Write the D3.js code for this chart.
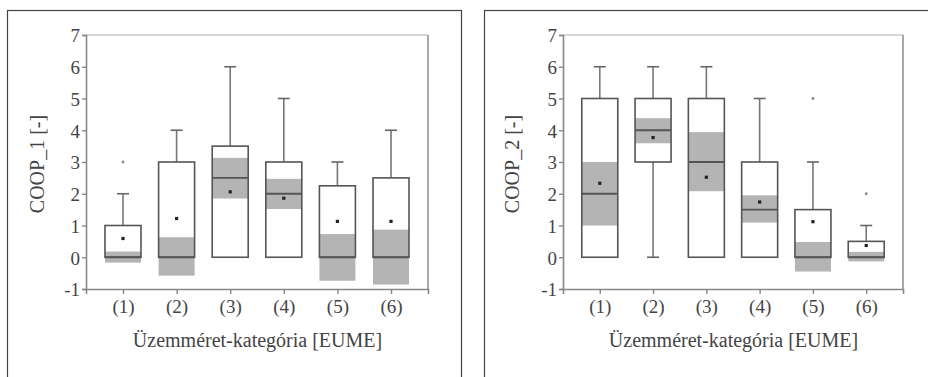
<!DOCTYPE html>
<html>
<head>
<meta charset="utf-8">
<script src="https://cdn.jsdelivr.net/npm/d3@7"></script>
<style>
  body { margin: 0; background: #fff; }
  svg text { font-family: "Liberation Serif", "Times New Roman", Times, Tinos, "DejaVu Serif", "Noto Serif", serif; fill: #444; }
</style>
</head>
<body>
<svg id="chart" width="928" height="377"></svg>
<script>
// categories & ticks
const categories = ['(1)', '(2)', '(3)', '(4)', '(5)', '(6)'];
const yTicks = [-1, 0, 1, 2, 3, 4, 5, 6, 7];
const xTitle = 'Üzemméret-kategória  [EUME]';
const serif = '"Liberation Serif", "Times New Roman", Times, Tinos, "DejaVu Serif", "Noto Serif", serif';

// COOP_1
const coop1Q1 = [0, 0, 0, 0, 0, 0];
const coop1Q3 = [1, 3, 3.5, 3, 2.25, 2.5];
const coop1Median = [0, 0, 2.5, 2, 0, 0];
const coop1WhiskerLow = [0, 0, 0, 0, 0, 0];
const coop1WhiskerHigh = [2, 4, 6, 5, 3, 4];
const coop1Mean = [0.59, 1.22, 2.06, 1.86, 1.13, 1.13];
const coop1CiLow = [-0.17, -0.58, 1.85, 1.52, -0.74, -0.86];
const coop1CiHigh = [0.18, 0.63, 3.13, 2.47, 0.73, 0.87];
const coop1Outliers = [[3], [], [], [], [], []];

// COOP_2
const coop2Q1 = [0, 3, 0, 0, 0, 0];
const coop2Q3 = [5, 5, 5, 3, 1.5, 0.5];
const coop2Median = [2, 4, 3, 1.5, 0, 0];
const coop2WhiskerLow = [0, 0, 0, 0, 0, 0];
const coop2WhiskerHigh = [6, 6, 6, 5, 3, 1];
const coop2Mean = [2.33, 3.77, 2.52, 1.74, 1.12, 0.37];
const coop2CiLow = [1, 3.59, 2.08, 1.09, -0.45, -0.13];
const coop2CiHigh = [3, 4.38, 3.94, 1.95, 0.48, 0.17];
const coop2Outliers = [[], [], [], [], [5], [2]];

const svg = d3.select('#chart');

function drawPanel(p) {
  const g = svg.append('g');

  // outer frame (bottom runs off the page)
  g.append('rect')
    .attr('x', p.frame[0] + 0.5).attr('y', p.frame[1] + 0.5)
    .attr('width', p.frame[2]).attr('height', 400)
    .attr('fill', 'none').attr('stroke', '#444').attr('stroke-width', 1.2);

  const x = d3.scalePoint().domain(categories).range([p.left, p.right]).padding(0.69);
  const y = d3.scaleLinear().domain([-1, 7]).range([289, 35]);
  const bw = 36, cap = 12;

  // plot area border top/right
  g.append('line').attr('x1', p.left).attr('x2', p.right).attr('y1', y(7)).attr('y2', y(7))
    .attr('stroke', '#d6d6d6').attr('stroke-width', 2);
  g.append('line').attr('x1', p.right).attr('x2', p.right).attr('y1', y(7)).attr('y2', y(-1))
    .attr('stroke', '#a8a8a8').attr('stroke-width', 2);

  const rows = categories.map((c, i) => ({
    c, q1: p.q1[i], q3: p.q3[i], med: p.median[i], lo: p.wlo[i], hi: p.whi[i],
    mean: p.mean[i], cl: p.cilo[i], ch: p.cihi[i], out: p.outliers[i]
  }));

  const box = g.selectAll('.box').data(rows).enter().append('g').attr('class', 'box');

  // whiskers
  box.filter(d => d.hi > d.q3).append('line')
    .attr('x1', d => x(d.c)).attr('x2', d => x(d.c))
    .attr('y1', d => y(d.q3)).attr('y2', d => y(d.hi))
    .attr('stroke', '#777').attr('stroke-width', 1.6);
  box.filter(d => d.hi > d.q3).append('line')
    .attr('x1', d => x(d.c) - cap / 2).attr('x2', d => x(d.c) + cap / 2)
    .attr('y1', d => y(d.hi)).attr('y2', d => y(d.hi))
    .attr('stroke', '#666').attr('stroke-width', 1.6);
  box.filter(d => d.lo < d.q1).append('line')
    .attr('x1', d => x(d.c)).attr('x2', d => x(d.c))
    .attr('y1', d => y(d.q1)).attr('y2', d => y(d.lo))
    .attr('stroke', '#777').attr('stroke-width', 1.6);
  box.filter(d => d.lo < d.q1).append('line')
    .attr('x1', d => x(d.c) - cap / 2).attr('x2', d => x(d.c) + cap / 2)
    .attr('y1', d => y(d.lo)).attr('y2', d => y(d.lo))
    .attr('stroke', '#666').attr('stroke-width', 1.6);

  // box body
  box.append('rect')
    .attr('x', d => x(d.c) - bw / 2).attr('width', bw)
    .attr('y', d => y(d.q3)).attr('height', d => y(d.q1) - y(d.q3))
    .attr('fill', '#fff');

  // confidence band of median
  box.append('rect')
    .attr('x', d => x(d.c) - bw / 2).attr('width', bw)
    .attr('y', d => y(d.ch)).attr('height', d => y(d.cl) - y(d.ch))
    .attr('fill', '#b4b4b4');

  box.append('rect')
    .attr('x', d => x(d.c) - bw / 2).attr('width', bw)
    .attr('y', d => y(d.q3)).attr('height', d => y(d.q1) - y(d.q3))
    .attr('fill', 'none').attr('stroke', '#555').attr('stroke-width', 1.6);

  box.append('line')
    .attr('x1', d => x(d.c) - bw / 2).attr('x2', d => x(d.c) + bw / 2)
    .attr('y1', d => y(d.med)).attr('y2', d => y(d.med))
    .attr('stroke', '#555').attr('stroke-width', 1.8);

  // mean
  box.append('rect')
    .attr('x', d => x(d.c) - 1.6).attr('y', d => y(d.mean) - 1.6)
    .attr('width', 3.2).attr('height', 3.2).attr('fill', '#222');

  // outliers
  box.selectAll('.out').data(d => d.out.map(v => ({ c: d.c, v }))).enter()
    .append('circle').attr('class', 'out')
    .attr('cx', d => x(d.c)).attr('cy', d => y(d.v)).attr('r', 1.4)
    .attr('fill', '#888');

  // axes
  const ya = g.append('g').attr('transform', `translate(${p.left},0)`)
    .call(d3.axisLeft(y).tickValues(yTicks).tickSize(4).tickPadding(2).tickFormat(d => String(d)));
  const xa = g.append('g').attr('transform', `translate(0,${y(-1)})`)
    .call(d3.axisBottom(x).tickSize(5).tickPadding(6));
  [ya, xa].forEach(a => {
    a.attr('font-family', null).attr('font-size', null);
    a.select('.domain').attr('stroke', '#888').attr('stroke-width', 1.6);
    a.selectAll('.tick line').attr('stroke', '#888').attr('stroke-width', 1.4);
    a.selectAll('.tick text').style('font-family', serif)
      .style('font-size', '19px').attr('fill', '#444');
  });
  ya.selectAll('.tick text').attr('dy', '0.36em');

  // titles
  g.append('text')
    .attr('transform', `translate(${p.yTitleX},164) rotate(-90)`)
    .attr('text-anchor', 'middle').attr('dy', '0.35em')
    .style('font-family', serif)
    .style('font-size', '20px').text(p.yTitle);
  g.append('text')
    .attr('x', (p.left + p.right) / 2 + 0.5).attr('y', 347)
    .attr('text-anchor', 'middle')
    .style('font-family', serif)
    .style('font-size', '20px').text(xTitle);
}

drawPanel({
  frame: [7, 10, 454], left: 86, right: 428, yTitleX: 37, yTitle: 'COOP_1 [-]',
  q1: coop1Q1, q3: coop1Q3, median: coop1Median, wlo: coop1WhiskerLow, whi: coop1WhiskerHigh,
  mean: coop1Mean, cilo: coop1CiLow, cihi: coop1CiHigh, outliers: coop1Outliers
});
drawPanel({
  frame: [484, 10, 460], left: 563, right: 903, yTitleX: 512, yTitle: 'COOP_2 [-]',
  q1: coop2Q1, q3: coop2Q3, median: coop2Median, wlo: coop2WhiskerLow, whi: coop2WhiskerHigh,
  mean: coop2Mean, cilo: coop2CiLow, cihi: coop2CiHigh, outliers: coop2Outliers
});
</script>
</body>
</html>
